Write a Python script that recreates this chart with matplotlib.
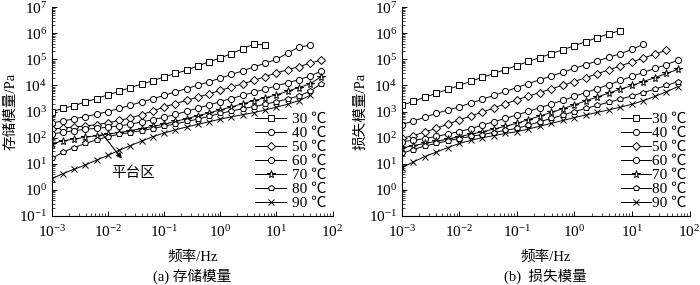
import matplotlib
matplotlib.use("Agg")
import matplotlib.pyplot as plt
from matplotlib.ticker import LogLocator, NullFormatter

plt.rcParams['font.family'] = ['Liberation Serif', 'Noto Sans CJK SC', 'DejaVu Sans']
plt.rcParams['mathtext.fontset'] = 'custom'
plt.rcParams['mathtext.rm'] = 'Liberation Serif'
plt.rcParams['axes.unicode_minus'] = False

# 频率 (Hz), 每十倍频 5 个点
freq = [0.001, 0.00158, 0.00251, 0.00398, 0.00631,
        0.01, 0.0158, 0.0251, 0.0398, 0.0631,
        0.1, 0.158, 0.251, 0.398, 0.631,
        1.0, 1.58, 2.51, 3.98, 6.31,
        10.0, 15.8, 25.1, 39.8, 63.1]

temps = ['30 ℃', '40 ℃', '50 ℃', '60 ℃', '70 ℃', '80 ℃', '90 ℃']
markers = ['s', 'o', 'D', 'o', '*', 'p', 'x']

# 存储模量 G' (Pa)
g1_30 = [1000, 1320, 1700, 2340, 3160, 4360, 5890, 8320, 11200, 15100,
         21400, 28800, 38000, 56200, 79400, 112000, 166000, 251000, 389000, 347000]
g1_40 = [363, 437, 525, 646, 794, 1000, 1320, 1740, 2340, 3090, 4170, 5620,
         7590, 10200, 13800, 19100, 26300, 36300, 51300, 70800, 100000, 174000, 295000, 347000]
g1_50 = [214, 234, 257, 282, 316, 372, 457, 575, 759, 1050, 1510, 2000, 2690,
         3550, 4790, 6460, 8710, 11500, 15500, 21900, 30200, 39800, 52500, 70800, 95500]
g1_60 = [138, 162, 186, 209, 229, 251, 282, 331, 398, 490, 603, 776, 1020,
         1350, 1780, 2400, 3160, 4170, 5500, 7240, 9770, 12600, 16600, 22900, 35500]
g1_70 = [58, 76, 89, 105, 120, 138, 158, 186, 224, 269, 331, 417, 537,
         692, 891, 1150, 1510, 2000, 2630, 3390, 4370, 6030, 8320, 11500, 21900]
g1_80 = [16, 28, 42, 60, 83, 110, 135, 158, 186, 224, 275, 339, 417,
         513, 661, 851, 1050, 1290, 1550, 1910, 2400, 3020, 3980, 6030, 11700]
g1_90 = [2.7, 4.2, 6.2, 9.1, 13.8, 21, 33, 50, 74, 110, 151, 200, 257,
         324, 407, 513, 631, 759, 912, 1150, 1480, 1910, 2630, 4170]

# 损失模量 G'' (Pa)
g2_30 = [1740, 2450, 3550, 5010, 7080, 10000, 14500, 20400, 28800, 40700,
         57500, 83200, 117000, 166000, 234000, 331000, 479000, 676000, 955000, 1260000]
g2_40 = [316, 437, 603, 851, 1150, 1510, 2140, 2950, 4170, 5890, 8320,
         11700, 16600, 22900, 32400, 44700, 63100, 87100, 120000, 166000, 240000, 380000]
g2_50 = [95, 120, 166, 229, 331, 479, 676, 955, 1380, 2000, 2820, 3890,
         5370, 7410, 10200, 14100, 20000, 28200, 39800, 56200, 79400, 112000, 158000, 224000]
g2_60 = [71, 79, 93, 112, 138, 170, 224, 302, 407, 550, 741, 1020, 1410,
         1950, 2690, 3800, 5370, 7590, 10700, 15500, 22400, 31600, 44700, 63100, 93300]
g2_70 = [40, 50, 60, 72, 89, 110, 135, 170, 214, 275, 355, 490, 676,
         933, 1290, 1820, 2570, 3630, 5130, 7240, 10000, 14100, 20000, 28800, 41700]
g2_80 = [25, 35, 48, 60, 76, 93, 112, 132, 158, 191, 229, 302, 407,
         550, 741, 1000, 1320, 1740, 2290, 3020, 3980, 5370, 7240, 10000, 14100]
g2_90 = [7.1, 11.7, 19, 28, 42, 60, 79, 100, 120, 145, 170, 214, 275,
         355, 457, 589, 741, 933, 1170, 1480, 1910, 2630, 3800, 5750, 9120]

storage = [g1_30, g1_40, g1_50, g1_60, g1_70, g1_80, g1_90]
loss = [g2_30, g2_40, g2_50, g2_60, g2_70, g2_80, g2_90]

fig = plt.figure(figsize=(7.0, 2.85), dpi=100)
ax1 = fig.add_axes([0.074, 0.242, 0.401, 0.733])
ax2 = fig.add_axes([0.574, 0.242, 0.411, 0.733])


def draw(ax, series, ylabel, caption, textpad, anchor):
    for vals, m, lab in zip(series, markers, temps):
        ms = 4.4
        if m == 'D':
            ms = 3.8
        elif m == '*':
            ms = 5.8
        elif m == 'x':
            ms = 4.0
        ax.plot(freq[:len(vals)], vals, '-', color='black', lw=0.7,
                marker=m, ms=ms, mfc='white', mec='black', mew=0.7, label=lab)
    ax.set_xscale('log')
    ax.set_yscale('log')
    ax.set_xlim(1e-3, 1e2)
    ax.set_ylim(1e-1, 1e7)
    ax.spines['top'].set_visible(False)
    ax.spines['right'].set_visible(False)
    for s in ('left', 'bottom'):
        ax.spines[s].set_linewidth(0.8)
    ax.xaxis.set_major_locator(LogLocator(base=10, numticks=10))
    ax.xaxis.set_minor_locator(LogLocator(base=10, subs=range(2, 10), numticks=20))
    ax.yaxis.set_major_locator(LogLocator(base=10, numticks=12))
    ax.yaxis.set_minor_locator(LogLocator(base=10, subs=range(2, 10), numticks=20))
    ax.xaxis.set_minor_formatter(NullFormatter())
    ax.yaxis.set_minor_formatter(NullFormatter())
    ax.tick_params(which='major', direction='in', length=3.5, width=0.7, labelsize=11)
    ax.tick_params(which='minor', direction='in', length=2, width=0.5)
    ax.tick_params(axis='x', pad=6)
    ax.set_xlabel('频率/Hz', fontsize=10.5, labelpad=7)
    ax.set_ylabel(ylabel, fontsize=10.5, labelpad=1)
    ax.text(0.5, -0.29, caption, transform=ax.transAxes, ha='center', va='center', fontsize=10.5)
    ax.legend(loc='lower right', bbox_to_anchor=anchor, frameon=False,
              fontsize=11, handlelength=2.0, handletextpad=textpad,
              labelspacing=0.02, borderaxespad=0.0)


draw(ax1, storage, '存储模量/Pa', '(a) 存储模量', 0.4, (1.0, 0.0))
draw(ax2, loss, '损失模量/Pa', '(b)  损失模量', 0.05, (1.01, 0.0))

# 平台区 标注
arrow_tail = (0.0071, 185)
arrow_head = (0.019, 13)
note_pos = (0.028, 4.5)
ax1.annotate('', xy=arrow_head, xytext=arrow_tail,
             arrowprops=dict(arrowstyle='-|>', color='black', lw=0.8, mutation_scale=8))
ax1.text(note_pos[0], note_pos[1], '平台区', ha='center', va='center', fontsize=10.5)

fig.savefig('out.png', dpi=100)
